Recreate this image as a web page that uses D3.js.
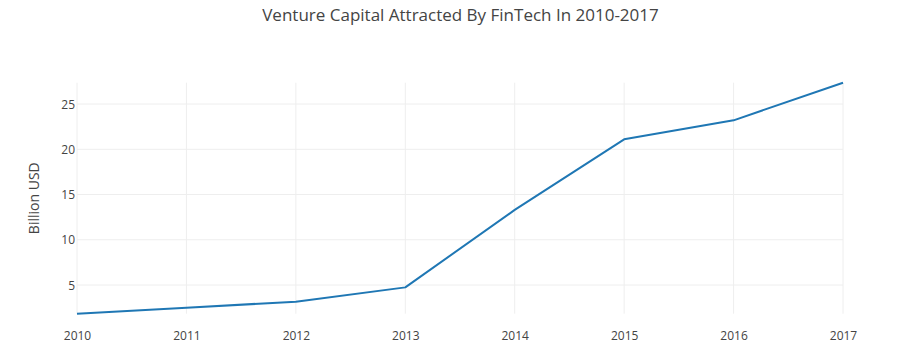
<!DOCTYPE html>
<html>
<head>
<meta charset="utf-8">
<script src="https://cdn.jsdelivr.net/npm/d3@7"></script>
<style>
  html, body { margin: 0; padding: 0; background: #fff; }
  svg { display: block; font-family: "Open Sans", sans-serif; }
</style>
</head>
<body>
<svg id="chart" width="921" height="356"></svg>
<script>
const years = [2010, 2011, 2012, 2013, 2014, 2015, 2016, 2017];
const values = [1.83, 2.49, 3.16, 4.74, 13.3, 21.1, 23.2, 27.36];
const yTicks = [5, 10, 15, 20, 25];
const title = "Venture Capital Attracted By FinTech In 2010-2017";
const yTitle = "Billion USD";

(function () {
const svg = d3.select("#chart");
const pLeft = 77, pRight = 843, pTop = 82.7, pBottom = 313.7;

const x = d3.scaleLinear().domain([d3.min(years), d3.max(years)]).range([pLeft, pRight]);
const y = d3.scaleLinear().domain([d3.min(values), d3.max(values)]).range([pBottom, pTop]);

// grid
svg.append("g").selectAll("line").data(years).join("line")
  .attr("x1", d => x(d)).attr("x2", d => x(d))
  .attr("y1", pTop).attr("y2", pBottom)
  .attr("stroke", "#eeeeee").attr("stroke-width", 1);
svg.append("g").selectAll("line").data(yTicks).join("line")
  .attr("x1", pLeft).attr("x2", pRight)
  .attr("y1", d => y(d)).attr("y2", d => y(d))
  .attr("stroke", "#eeeeee").attr("stroke-width", 1);

// axes labels
const xAxis = d3.axisBottom(x).tickValues(years).tickFormat(d3.format("d")).tickSize(0).tickPadding(0);
const gx = svg.append("g").attr("transform", `translate(0,${pBottom})`).call(xAxis);
gx.select(".domain").remove();
gx.selectAll("text").attr("fill", "#444").attr("font-size", 12)
  .attr("font-family", "'Open Sans', sans-serif").attr("dy", null).attr("y", 26);

const yAxis = d3.axisLeft(y).tickValues(yTicks).tickSize(0).tickPadding(2);
const gy = svg.append("g").attr("transform", `translate(${pLeft},0)`).call(yAxis);
gy.select(".domain").remove();
gy.selectAll("text").attr("fill", "#444").attr("font-size", 12)
  .attr("font-family", "'Open Sans', sans-serif").attr("dy", "0.35em");

// line
const line = d3.line().x((d, i) => x(years[i])).y(d => y(d));
svg.append("path").datum(values)
  .attr("d", line)
  .attr("fill", "none")
  .attr("stroke", "#1f77b4")
  .attr("stroke-width", 2)
  .attr("stroke-linejoin", "round");

// title
svg.append("text").attr("x", 460.5).attr("y", 21)
  .attr("text-anchor", "middle").attr("fill", "#444").attr("font-size", 17)
  .text(title);

// y title
svg.append("text")
  .attr("transform", `translate(39,${(pTop + pBottom) / 2}) rotate(-90)`)
  .attr("text-anchor", "middle").attr("fill", "#444").attr("font-size", 14)
  .text(yTitle);
})();
</script>
</body>
</html>
